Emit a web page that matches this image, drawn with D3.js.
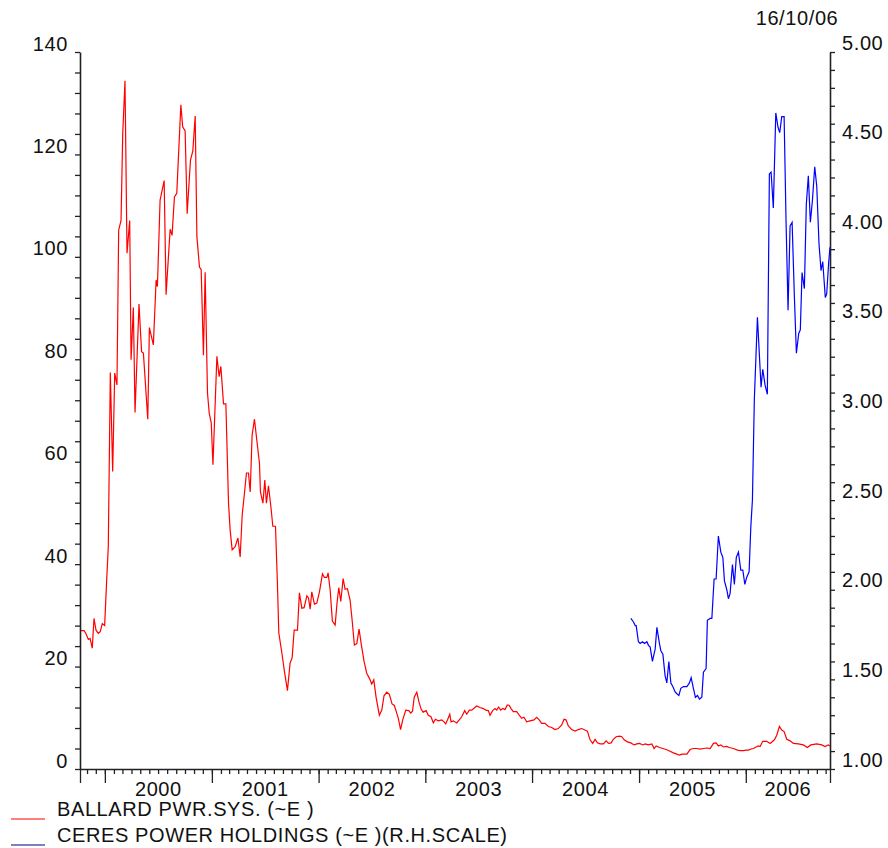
<!DOCTYPE html>
<html>
<head>
<meta charset="utf-8">
<script src="https://cdn.jsdelivr.net/npm/d3@7"></script>
<style>
  body { margin: 0; background: #fff; }
  svg { display: block; font-family: "Liberation Sans", Arial, sans-serif; }
</style>
</head>
<body>
<div id="chart"></div>
<script>
// dates are decimal years
const startT = 1999.767;
const endT = 2006.789;
const chartDate = '16/10/06';

// [decimal year, price]
const ballard = [
  [1999.776, 27.0], [1999.805, 27.0], [1999.823, 26.4], [1999.845, 25.3], [1999.861, 25.5], [1999.882, 23.6],
  [1999.898, 29.4], [1999.917, 27.1], [1999.938, 26.5], [1999.957, 26.8], [1999.976, 28.4], [1999.998, 28.0],
  [2000.017, 36.9], [2000.032, 43.4], [2000.051, 77.4], [2000.073, 58.1], [2000.092, 77.3], [2000.113, 75.0],
  [2000.129, 105.2], [2000.151, 107.1], [2000.167, 124.1], [2000.188, 134.4], [2000.207, 100.7], [2000.232, 107.1],
  [2000.245, 79.9], [2000.266, 90.1], [2000.282, 69.6], [2000.319, 90.8], [2000.343, 81.5], [2000.360, 81.2],
  [2000.401, 68.3], [2000.416, 86.2], [2000.453, 82.8], [2000.479, 95.5], [2000.491, 94.2], [2000.516, 111.1],
  [2000.554, 114.9], [2000.572, 92.6], [2000.610, 105.4], [2000.628, 104.2], [2000.650, 111.7], [2000.672, 112.4],
  [2000.710, 129.7], [2000.727, 125.4], [2000.750, 124.6], [2000.769, 108.4], [2000.800, 118.9], [2000.822, 120.7],
  [2000.844, 127.5], [2000.860, 103.9], [2000.884, 98.0], [2000.900, 97.5], [2000.921, 80.8], [2000.937, 97.0],
  [2000.959, 73.4], [2000.975, 69.5], [2000.994, 67.6], [2001.010, 59.4], [2001.047, 80.6], [2001.068, 76.6],
  [2001.084, 78.6], [2001.109, 71.3], [2001.131, 71.3], [2001.156, 51.9], [2001.171, 46.7], [2001.190, 42.8],
  [2001.218, 43.4], [2001.244, 45.1], [2001.265, 41.4], [2001.284, 49.6], [2001.302, 53.2], [2001.324, 57.8],
  [2001.343, 57.8], [2001.359, 54.1], [2001.377, 65.2], [2001.399, 68.3], [2001.421, 64.2], [2001.446, 59.7],
  [2001.455, 54.1], [2001.478, 51.9], [2001.496, 56.4], [2001.511, 51.9], [2001.530, 55.3], [2001.553, 51.2],
  [2001.571, 47.4], [2001.596, 47.4], [2001.614, 36.3], [2001.627, 26.6], [2001.656, 22.6], [2001.680, 19.0],
  [2001.708, 15.3], [2001.733, 20.7], [2001.752, 21.7], [2001.771, 27.1], [2001.802, 27.1], [2001.820, 34.4],
  [2001.843, 31.4], [2001.864, 31.5], [2001.890, 33.8], [2001.905, 33.4], [2001.921, 31.2], [2001.936, 34.6],
  [2001.961, 32.2], [2001.983, 32.4], [2002.008, 34.6], [2002.036, 38.1], [2002.054, 37.4], [2002.077, 37.4],
  [2002.089, 38.3], [2002.108, 35.0], [2002.129, 28.9], [2002.155, 28.1], [2002.173, 32.5], [2002.189, 35.4],
  [2002.208, 32.7], [2002.230, 37.2], [2002.248, 35.1], [2002.270, 35.2], [2002.295, 33.0], [2002.314, 29.1],
  [2002.335, 24.2], [2002.358, 24.5], [2002.379, 27.3], [2002.401, 24.2], [2002.426, 21.0], [2002.451, 18.7],
  [2002.476, 17.7], [2002.498, 16.6], [2002.517, 17.4], [2002.538, 14.1], [2002.569, 10.5], [2002.592, 11.5],
  [2002.613, 14.3], [2002.639, 15.0], [2002.663, 14.6], [2002.688, 12.7], [2002.710, 12.4], [2002.732, 10.9],
  [2002.747, 9.9], [2002.768, 7.7], [2002.788, 9.6], [2002.817, 11.5], [2002.845, 11.4], [2002.863, 10.9],
  [2002.880, 11.3], [2002.896, 14.0], [2002.920, 15.0], [2002.939, 13.2], [2002.960, 11.7], [2002.979, 11.1],
  [2003.007, 11.4], [2003.028, 10.5], [2003.053, 10.2], [2003.075, 9.0], [2003.094, 9.7], [2003.122, 9.4],
  [2003.154, 9.6], [2003.175, 9.2], [2003.191, 8.8], [2003.210, 9.7], [2003.229, 10.7], [2003.241, 9.2],
  [2003.262, 9.4], [2003.294, 9.0], [2003.318, 9.6], [2003.341, 10.2], [2003.369, 11.4], [2003.388, 10.7],
  [2003.412, 11.5], [2003.435, 11.5], [2003.459, 11.9], [2003.481, 12.3], [2003.512, 12.0], [2003.543, 11.8],
  [2003.568, 11.5], [2003.590, 11.4], [2003.606, 10.5], [2003.631, 11.4], [2003.653, 11.8], [2003.669, 11.5],
  [2003.687, 12.1], [2003.706, 11.5], [2003.725, 11.8], [2003.746, 11.6], [2003.768, 12.5], [2003.787, 12.4],
  [2003.803, 11.8], [2003.824, 11.2], [2003.856, 11.2], [2003.880, 10.5], [2003.903, 9.9], [2003.924, 10.1],
  [2003.950, 9.2], [2003.980, 9.4], [2004.018, 9.6], [2004.043, 10.1], [2004.067, 9.6], [2004.090, 8.9],
  [2004.121, 8.9], [2004.152, 8.3], [2004.184, 8.1], [2004.214, 7.7], [2004.245, 7.9], [2004.277, 8.6],
  [2004.299, 9.7], [2004.317, 9.6], [2004.339, 8.4], [2004.371, 7.7], [2004.402, 7.4], [2004.433, 7.7],
  [2004.464, 7.9], [2004.495, 7.6], [2004.517, 7.4], [2004.542, 5.7], [2004.567, 5.0], [2004.589, 5.8],
  [2004.611, 5.1], [2004.636, 4.9], [2004.667, 4.9], [2004.692, 5.5], [2004.714, 5.0], [2004.739, 5.1],
  [2004.760, 5.8], [2004.786, 6.3], [2004.817, 6.4], [2004.839, 6.3], [2004.861, 5.7], [2004.891, 5.3],
  [2004.923, 5.1], [2004.954, 4.7], [2004.979, 4.9], [2005.004, 5.0], [2005.036, 4.7], [2005.057, 4.9],
  [2005.088, 4.7], [2005.120, 4.9], [2005.141, 4.0], [2005.160, 4.5], [2005.191, 4.2], [2005.223, 4.0],
  [2005.254, 3.8], [2005.285, 3.5], [2005.316, 3.2], [2005.354, 2.9], [2005.375, 2.7], [2005.404, 2.9],
  [2005.448, 2.9], [2005.478, 3.8], [2005.507, 4.0], [2005.541, 4.0], [2005.572, 3.9], [2005.603, 4.0],
  [2005.635, 4.1], [2005.666, 4.0], [2005.697, 5.0], [2005.722, 5.1], [2005.743, 4.5], [2005.766, 4.7],
  [2005.790, 4.3], [2005.822, 4.4], [2005.844, 4.2], [2005.884, 4.0], [2005.921, 3.7], [2005.947, 3.6],
  [2005.978, 3.6], [2006.003, 3.7], [2006.024, 3.7], [2006.050, 3.9], [2006.071, 4.0], [2006.096, 4.3],
  [2006.118, 4.5], [2006.134, 4.4], [2006.159, 5.4], [2006.197, 5.4], [2006.228, 5.0], [2006.268, 5.7],
  [2006.290, 6.6], [2006.315, 8.3], [2006.337, 7.6], [2006.359, 7.3], [2006.384, 5.8], [2006.415, 5.5],
  [2006.446, 5.0], [2006.492, 4.9], [2006.539, 4.7], [2006.577, 4.2], [2006.609, 4.7], [2006.665, 4.9],
  [2006.712, 4.7], [2006.742, 4.4], [2006.773, 4.7], [2006.789, 4.5]
];

// [decimal year, price] on the right-hand scale
const ceres = [
  [2004.923, 1.84], [2004.948, 1.82], [2004.964, 1.80], [2004.973, 1.80], [2004.994, 1.71], [2005.010, 1.70],
  [2005.032, 1.71], [2005.051, 1.70], [2005.073, 1.71], [2005.088, 1.69], [2005.104, 1.68], [2005.125, 1.60],
  [2005.151, 1.67], [2005.167, 1.79], [2005.191, 1.70], [2005.204, 1.66], [2005.223, 1.64], [2005.244, 1.52],
  [2005.260, 1.48], [2005.279, 1.60], [2005.298, 1.48], [2005.316, 1.46], [2005.338, 1.43], [2005.354, 1.42],
  [2005.373, 1.41], [2005.391, 1.45], [2005.416, 1.46], [2005.448, 1.46], [2005.472, 1.48], [2005.488, 1.51],
  [2005.509, 1.45], [2005.528, 1.40], [2005.547, 1.41], [2005.566, 1.39], [2005.588, 1.40], [2005.603, 1.54],
  [2005.628, 1.56], [2005.640, 1.83], [2005.666, 1.84], [2005.682, 1.84], [2005.703, 2.06], [2005.722, 2.06],
  [2005.743, 2.30], [2005.766, 2.21], [2005.785, 2.18], [2005.800, 2.05], [2005.822, 2.00], [2005.837, 1.95],
  [2005.853, 1.98], [2005.875, 2.14], [2005.893, 2.03], [2005.911, 2.18], [2005.931, 2.21], [2005.953, 2.11],
  [2005.972, 2.11], [2005.991, 2.03], [2006.009, 2.07], [2006.031, 2.10], [2006.047, 2.35], [2006.062, 2.50],
  [2006.080, 3.06], [2006.109, 3.52], [2006.143, 3.13], [2006.159, 3.23], [2006.181, 3.14], [2006.202, 3.09],
  [2006.221, 4.32], [2006.237, 4.33], [2006.258, 4.13], [2006.281, 4.66], [2006.302, 4.58], [2006.318, 4.55],
  [2006.337, 4.64], [2006.359, 4.64], [2006.377, 4.06], [2006.396, 3.56], [2006.415, 4.03], [2006.434, 4.05],
  [2006.455, 3.64], [2006.474, 3.32], [2006.496, 3.43], [2006.511, 3.45], [2006.527, 3.77], [2006.549, 3.68],
  [2006.567, 4.15], [2006.586, 4.31], [2006.605, 4.05], [2006.624, 4.17], [2006.646, 4.36], [2006.665, 4.25],
  [2006.686, 3.93], [2006.705, 3.78], [2006.721, 3.83], [2006.745, 3.63], [2006.758, 3.65], [2006.777, 3.83],
  [2006.789, 3.91]
];

const leftLabels = [0, 20, 40, 60, 80, 100, 120, 140];
const rightLabels = [1, 1.5, 2, 2.5, 3, 3.5, 4, 4.5, 5];
const years = [2000, 2001, 2002, 2003, 2004, 2005, 2006];
const seriesNames = ['BALLARD PWR.SYS. (~E )', 'CERES POWER HOLDINGS (~E )(R.H.SCALE)'];
const seriesColors = ['#ff0000', '#0000ff'];

function fromDecimal(t) {
  const y = Math.floor(t);
  const a = new Date(y, 0, 1), b = new Date(y + 1, 0, 1);
  return new Date(+a + (t - y) * (b - a));
}

const w = 888, h = 848;
const plotLeft = 80, plotRight = 830, plotTop = 52, plotBottom = 769;
const fontSize = 20;

const svg = d3.select('#chart').append('svg')
  .attr('width', w)
  .attr('height', h);

const x = d3.scaleTime()
  .domain([fromDecimal(startT), fromDecimal(endT)])
  .range([plotLeft, plotRight]);

const yL = d3.scaleLinear().domain([0, 140]).range([plotBottom, plotTop]);
const yR = d3.scaleLinear().domain([1, 5]).range([plotBottom, plotTop]);

// left axis
const gL = svg.append('g')
  .attr('transform', `translate(${plotLeft},0)`)
  .call(d3.axisLeft(yL)
    .tickValues(d3.range(0, 141, 4))
    .tickSize(5)
    .tickSizeOuter(0)
    .tickFormat(d => leftLabels.includes(d) ? d : ''));

// right axis
const gR = svg.append('g')
  .attr('transform', `translate(${plotRight},0)`)
  .call(d3.axisRight(yR)
    .tickValues(d3.range(10, 51).map(d => d / 10))
    .tickSize(5)
    .tickSizeOuter(0)
    .tickFormat(d => rightLabels.includes(d) ? d3.format('.2f')(d) : ''));

// bottom axis: minor month ticks, long year ticks
const months = d3.timeMonth.range(x.domain()[0], x.domain()[1]);
const gB = svg.append('g')
  .attr('transform', `translate(0,${plotBottom})`)
  .call(d3.axisBottom(x)
    .tickValues(months)
    .tickSize(5)
    .tickSizeOuter(0)
    .tickFormat(''));

const yearStarts = years.map(y => new Date(y, 0, 1)).concat(x.domain());
svg.append('g')
  .attr('transform', `translate(0,${plotBottom})`)
  .call(d3.axisBottom(x)
    .tickValues(yearStarts)
    .tickSize(14)
    .tickSizeOuter(0)
    .tickFormat(''))
  .select('.domain').remove();

[gL, gR, gB].forEach(g => {
  g.select('.domain').attr('stroke', '#222').attr('stroke-width', 1.6);
});
svg.selectAll('.tick line').attr('stroke', '#222').attr('stroke-width', 1.3);
svg.selectAll('.tick text')
  .attr('font-family', '"Liberation Sans", Arial, sans-serif')
  .attr('font-size', fontSize)
  .attr('letter-spacing', 0.6)
  .attr('fill', '#111');

gL.selectAll('.tick text').attr('x', -12).attr('dy', -2);
gR.selectAll('.tick text').attr('x', 12).attr('dy', -3);

// year labels, centred on the visible part of each year
svg.append('g').selectAll('text')
  .data(years)
  .enter()
  .append('text')
  .attr('x', y => {
    const a = Math.max(x(new Date(y, 0, 1)), plotLeft);
    const b = Math.min(x(new Date(y + 1, 0, 1)), plotRight);
    return (a + b) / 2;
  })
  .attr('y', plotBottom + 27)
  .attr('text-anchor', 'middle')
  .attr('font-size', fontSize)
  .attr('letter-spacing', 0.6)
  .attr('fill', '#111')
  .text(d => d);

// series
const lineL = d3.line()
  .x(d => x(fromDecimal(d[0])))
  .y(d => yL(d[1]));

const lineR = d3.line()
  .x(d => x(fromDecimal(d[0])))
  .y(d => yR(d[1]));

svg.append('path')
  .datum(ballard)
  .attr('fill', 'none')
  .attr('stroke', seriesColors[0])
  .attr('stroke-width', 1.2)
  .attr('d', lineL);

svg.append('path')
  .datum(ceres)
  .attr('fill', 'none')
  .attr('stroke', seriesColors[1])
  .attr('stroke-width', 1.2)
  .attr('d', lineR);

// date
svg.append('text')
  .attr('x', 797)
  .attr('y', 25)
  .attr('text-anchor', 'middle')
  .attr('font-size', fontSize)
  .attr('letter-spacing', 0.6)
  .attr('fill', '#111')
  .text(chartDate);

// legend
const legend = svg.append('g').selectAll('g')
  .data(seriesNames)
  .enter()
  .append('g')
  .attr('transform', (d, i) => `translate(0,${816 + i * 26})`);

legend.append('line')
  .attr('x1', 11).attr('x2', 45)
  .attr('y1', 3).attr('y2', 3)
  .attr('stroke', (d, i) => i === 0 ? seriesColors[0] : '#000080')
  .attr('stroke-width', 1.2);

legend.append('text')
  .attr('x', 57)
  .attr('y', 0)
  .attr('font-size', fontSize)
  .attr('letter-spacing', 0.6)
  .attr('fill', '#111')
  .text(d => d);
</script>
</body>
</html>
